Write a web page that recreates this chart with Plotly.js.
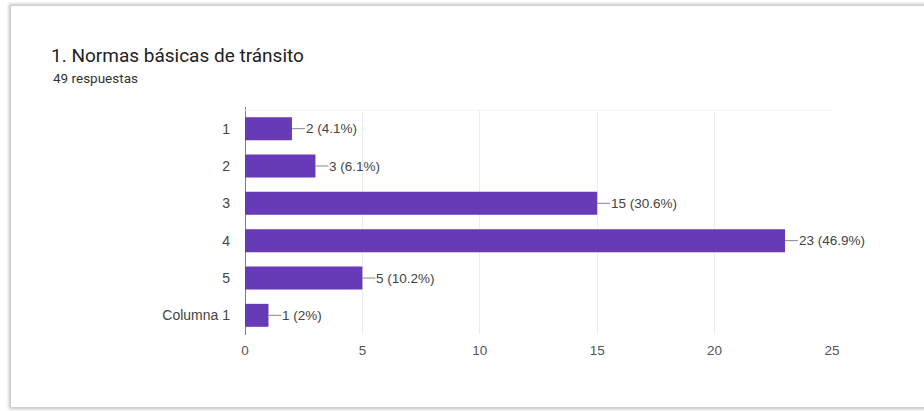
<!DOCTYPE html>
<html>
<head>
<meta charset="utf-8">
<script src="https://cdn.plot.ly/plotly-3.0.1.min.js"></script>
<style>
html,body{margin:0;padding:0;background:#fff;}
#wrap{position:relative;width:924px;height:411px;overflow:hidden;}
#frame{position:absolute;left:10px;top:5px;width:960px;height:401px;border:1px solid #cfcfcf;box-shadow:0 0 3px 1px rgba(0,0,0,0.25);background:#fff;}
#chart{position:absolute;left:0;top:0;width:924px;height:411px;}
</style>
</head>
<body>
<div id="wrap"><div id="frame"></div><div id="chart"></div></div>
<script>
const categories = ["1", "2", "3", "4", "5", "Columna 1"];
const counts = [2, 3, 15, 23, 5, 1];
const percents = ["4.1%", "6.1%", "30.6%", "46.9%", "10.2%", "2%"];
const tickVals = [0, 5, 10, 15, 20, 25];

const labelFont = {family: 'Arial, Liberation Sans, sans-serif', size: 13.5, color: '#444'};
const annotations = categories.map((c, i) => ({
  x: counts[i], y: i, xref: 'x', yref: 'y',
  text: counts[i] + ' (' + percents[i] + ')',
  showarrow: true, arrowhead: 0, arrowwidth: 1, arrowcolor: '#888',
  ax: 13, ay: 0, xanchor: 'left', yanchor: 'middle', borderpad: 0,
  font: labelFont
}));
// subtitle
annotations.push({
  xref: 'paper', yref: 'paper', x: (51 - 245) / 587, y: (334 - 78) / 224, xanchor: 'left', yanchor: 'middle',
  text: '49 respuestas', showarrow: false,
  font: {family: 'Roboto, Arial, sans-serif', size: 13.5, color: '#333'}
});

Plotly.newPlot('chart', [{
  type: 'bar', orientation: 'h',
  y: categories, x: counts,
  marker: {color: '#673ab7', line: {width: 0}},
  width: 0.615, hoverinfo: 'none'
}], {
  width: 924, height: 411,
  margin: {l: 245, r: 92, t: 110, b: 77, pad: 0},
  paper_bgcolor: 'rgba(0,0,0,0)', plot_bgcolor: 'rgba(0,0,0,0)',
  title: {text: '1. Normas básicas de tránsito', xref: 'container', yref: 'container',
    x: 51 / 924, xanchor: 'left', y: 1 - 55 / 411, yanchor: 'middle',
    font: {family: 'Roboto, Arial, sans-serif', size: 19, color: '#212121'}},
  xaxis: {range: [0, 25], tickvals: tickVals, ticktext: tickVals.map(String),
    showgrid: true, gridcolor: '#ececec', gridwidth: 1, zeroline: false,
    showline: false, ticks: '', ticklen: 0, ticklabelstandoff: 6,
    tickfont: {family: 'Arial, Liberation Sans, sans-serif', size: 13.5, color: '#555'}},
  yaxis: {type: 'category', autorange: 'reversed', showgrid: false, zeroline: false,
    showline: false, ticks: '', ticklabelstandoff: 14,
    tickfont: {family: 'Arial, Liberation Sans, sans-serif', size: 14, color: '#444'}},
  shapes: [
    {type: 'line', xref: 'x', yref: 'paper', x0: 0, x1: 0, y0: -0.005, y1: 1.013, line: {color: '#555', width: 1.5}},
    {type: 'line', xref: 'paper', yref: 'paper', x0: 0, x1: 1, y0: 1, y1: 1, line: {color: '#f0f0f0', width: 1}}
  ],
  annotations: annotations,
  showlegend: false
}, {displayModeBar: false, staticPlot: true});
</script>
</body>
</html>
